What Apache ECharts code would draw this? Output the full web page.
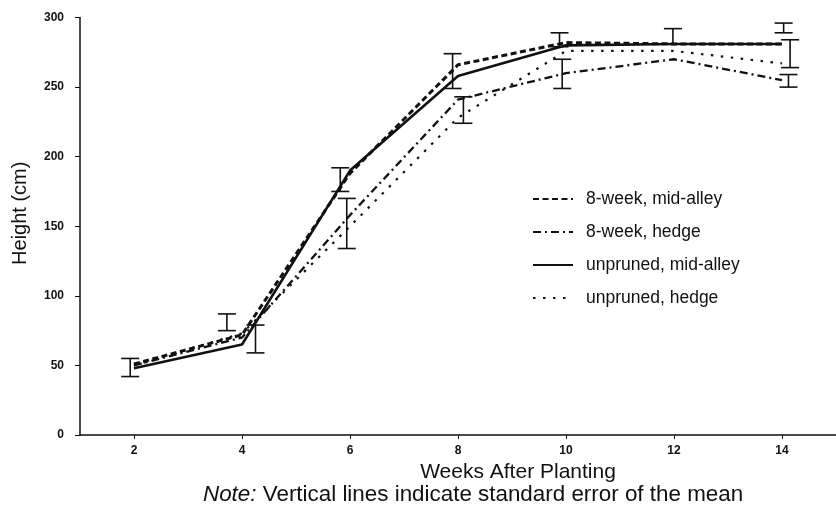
<!DOCTYPE html>
<html>
<head>
<meta charset="utf-8">
<script src="https://cdn.jsdelivr.net/npm/echarts@6/dist/echarts.min.js"></script>
<style>
html, body { margin: 0; padding: 0; background: #fff; }
#chart { width: 836px; height: 505px; }
</style>
</head>
<body>
<div id="chart"></div>
<script>
const weeks = [2, 4, 6, 8, 10, 12, 14];
const prunedMidAlley = [51, 72, 188, 266, 282, 281, 281];
const prunedHedge = [50, 70, 158, 241, 260, 270, 255];
const unprunedMidAlley = [48, 65, 190, 258, 280, 281, 281];
const unprunedHedge = [50, 73, 150, 228, 276, 276, 267];

// standard error bars, drawn a little off the week like in the original
const errWeek = [1.93, 3.72, 4.25, 5.82, 5.94, 7.9, 8.1, 9.88, 9.93, 11.98, 14.03, 14.15, 14.12];
const errLow = [42, 75, 59, 175, 134, 249, 224, 279, 249, 281, 289, 264, 250];
const errHigh = [55, 87, 79, 192, 170, 274, 243, 289, 270, 292, 296, 284, 259];

const xTicks = [2, 4, 6, 8, 10, 12, 14];

const ink = '#111';
const font = 'Liberation Sans, Arial, sans-serif';

const pairs = (vals) => weeks.map((w, i) => [w, vals[i]]);

const lineSeries = (name, vals, lineStyle) => ({
  name: name,
  type: 'line',
  data: pairs(vals),
  symbol: 'none',
  lineStyle: Object.assign({ color: ink, cap: 'butt' }, lineStyle),
  itemStyle: { color: ink },
  z: 3
});

const chart = echarts.init(document.getElementById('chart'));
chart.setOption({
  animation: false,
  backgroundColor: '#fff',
  grid: { left: 80, right: -9, top: 17.5, bottom: 70 },
  legend: {
    orient: 'vertical',
    left: 532,
    top: 190,
    padding: 0,
    itemWidth: 40,
    itemHeight: 14,
    itemGap: 15,
    itemStyle: { opacity: 0 },
    data: ['8-week, mid-alley', '8-week, hedge', 'unpruned, mid-alley', 'unpruned, hedge'],
    textStyle: { color: ink, fontFamily: font, fontSize: 17.5, padding: [0, 0, 0, 8] }
  },
  xAxis: {
    type: 'value',
    min: 1,
    max: 15,
    name: 'Weeks After Planting',
    nameLocation: 'middle',
    nameGap: 24,
    nameTextStyle: { color: ink, fontFamily: font, fontSize: 21, padding: [0, 0, 0, 120] },
    axisLine: { lineStyle: { color: ink, width: 1.5 } },
    axisTick: { customValues: xTicks, length: 4, lineStyle: { color: ink } },
    axisLabel: { customValues: xTicks, margin: 10, color: ink, fontFamily: font, fontSize: 12, fontWeight: 'bold' },
    splitLine: { show: false }
  },
  yAxis: {
    type: 'value',
    min: 0,
    max: 300,
    interval: 50,
    name: 'Height (cm)',
    nameLocation: 'middle',
    nameGap: 50,
    nameTextStyle: { color: ink, fontFamily: font, fontSize: 20, padding: [0, 0, 0, 26] },
    axisLine: { show: true, lineStyle: { color: ink, width: 1.5 } },
    axisTick: { show: true, length: 5, lineStyle: { color: ink } },
    axisLabel: { margin: 16, color: ink, fontFamily: font, fontSize: 12, fontWeight: 'bold' },
    splitLine: { show: false }
  },
  graphic: [{
    type: 'text',
    left: 203,
    top: 484,
    style: {
      text: '{i|Note:} Vertical lines indicate standard error of the mean',
      font: '22.4px ' + font,
      fill: ink,
      rich: { i: { fontStyle: 'italic', fontFamily: font, fontSize: 22.4 } }
    }
  }],
  series: [
    lineSeries('8-week, mid-alley', prunedMidAlley, { width: 3, type: [6, 3.5] }),
    lineSeries('8-week, hedge', prunedHedge, { width: 2.3, type: [8, 4, 2, 4] }),
    lineSeries('unpruned, mid-alley', unprunedMidAlley, { width: 2.6, type: 'solid' }),
    lineSeries('unpruned, hedge', unprunedHedge, { width: 2.2, type: [2.5, 7.5] }),
    {
      name: 'SE',
      type: 'custom',
      data: errWeek.map((w, i) => [w, errLow[i], errHigh[i]]),
      encode: { x: 0, y: [1, 2] },
      z: 4,
      renderItem: (params, api) => {
        const lo = api.coord([api.value(0), api.value(1)]);
        const hi = api.coord([api.value(0), api.value(2)]);
        const half = 9;
        const st = { stroke: ink, lineWidth: 1.6 };
        return {
          type: 'group',
          children: [
            { type: 'line', shape: { x1: lo[0], y1: lo[1], x2: hi[0], y2: hi[1] }, style: st },
            { type: 'line', shape: { x1: lo[0] - half, y1: lo[1], x2: lo[0] + half, y2: lo[1] }, style: st },
            { type: 'line', shape: { x1: hi[0] - half, y1: hi[1], x2: hi[0] + half, y2: hi[1] }, style: st }
          ]
        };
      }
    }
  ]
});
</script>
</body>
</html>
